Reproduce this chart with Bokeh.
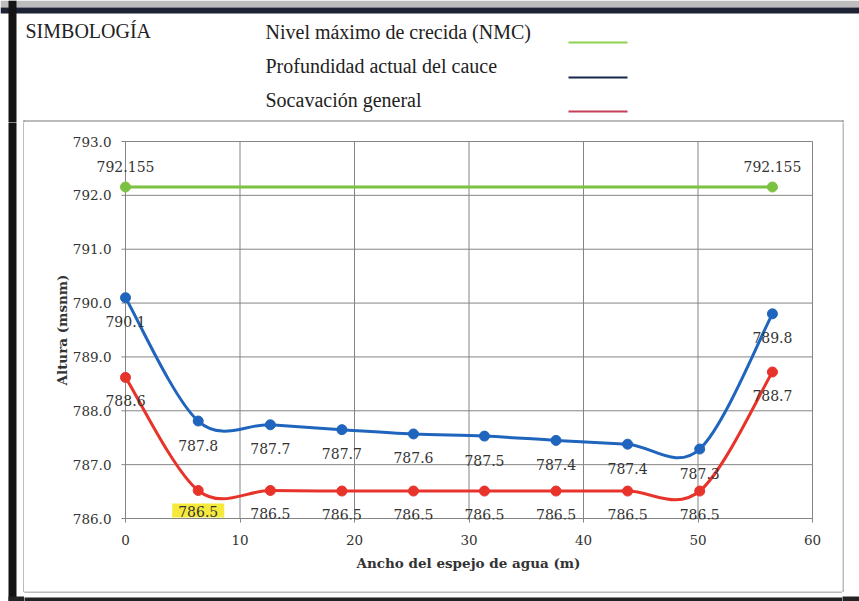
from bokeh.plotting import figure
from bokeh.layouts import column, row
from bokeh.models import (ColumnDataSource, FixedTicker, PrintfTickFormatter, Label,
                          LabelSet, Range1d)
from bokeh.core.properties import value
from bokeh.embed import file_html
from bokeh.resources import INLINE

# ---------------- data ----------------
x_pts = [0, 6.35, 12.65, 18.9, 25.15, 31.35, 37.6, 43.85, 50.15, 56.5]
y_cauce = [790.1, 787.81, 787.74, 787.65, 787.57, 787.53, 787.45, 787.38, 787.29, 789.8]
lbl_cauce = ["790.1", "787.8", "787.7", "787.7", "787.6", "787.5", "787.4", "787.4", "787.3", "789.8"]
y_soc = [788.62, 786.52, 786.52, 786.51, 786.51, 786.51, 786.51, 786.51, 786.51, 788.72]
lbl_soc = ["788.6", "786.5", "786.5", "786.5", "786.5", "786.5", "786.5", "786.5", "786.5", "788.7"]
x_nmc = [0, 56.5]
y_nmc = [792.155, 792.155]
lbl_nmc = ["792.155", "792.155"]
x_ticks = [0, 10, 20, 30, 40, 50, 60]
y_ticks = [786, 787, 788, 789, 790, 791, 792, 793]
legend_title = "SIMBOLOGÍA"
series_names = ["Nivel máximo de crecida (NMC)", "Profundidad actual del cauce", "Socavación general"]
highlight_index = 1

C_GREEN = "#7cc242"
C_BLUE = "#1f65bd"
C_RED = "#e8332a"
LEG_COLORS = ["#8fd14f", "#16284a", "#c4405a"]
GRID = "#858585"
TXT = "#333333"

# ---------------- page geometry (px) ----------------
# decorations of the scanned sheet: (left, top, right, bottom, colour)
DECO = [
    (0, 0, 859, 7, "#bdbdbd"),
    (0, 7, 859, 13, "#1e2235"),
    (8, 0, 16, 601, "#141414"),
    (8, 596, 859, 601, "#232323"),
    (23, 120, 843, 121, "#7a7a7a"),
    (23, 590, 843, 591, "#7a7a7a"),
    (23, 120, 24, 591, "#7a7a7a"),
    (842, 120, 843, 591, "#7a7a7a"),
]


def deco(x0, y0, w, h):
    f = figure(width=w, height=h, output_backend="svg", toolbar_location=None,
               x_range=Range1d(x0, x0 + w), y_range=Range1d(y0 + h, y0),
               x_axis_type=None, y_axis_type=None, min_border=0, frame_align=False)
    f.outline_line_color = None
    f.background_fill_color = "white"
    f.border_fill_color = "white"
    for (a, b, c, d, col) in DECO:
        f.quad(left=a, right=c, top=b, bottom=d, fill_color=col, line_color=None)
    return f


# ---------------- legend strip ----------------
leg = deco(0, 0, 859, 122)
leg.text(x=[25], y=[30], text=[legend_title], text_font=value("Liberation Serif"),
         text_font_size="20px", text_color="#222222", text_baseline="middle")
leg_y_text = [31, 65, 99]
leg_y_line = [42, 77, 111]
leg.text(x=[265] * 3, y=leg_y_text, text=series_names, text_font=value("Liberation Serif"),
         text_font_size="20px", text_color="#222222", text_baseline="middle")
leg.segment(x0=[568] * 3, x1=[627] * 3, y0=leg_y_line, y1=leg_y_line,
            line_color=LEG_COLORS, line_width=2)

left = deco(0, 122, 24, 479)
bottom = deco(24, 590, 818, 11)
right = deco(842, 122, 17, 479)

# ---------------- main chart ----------------
MX, MY, MW, MH = 24, 122, 818, 468          # canvas of the chart on the page
FL, FR, FT, FB = 94, 842, 140, 519           # plot frame on the page
PX0, PX60, PY793, PY786 = 125, 812, 141, 518  # where the axis ends fall
sx = (PX60 - PX0) / 60.0
sy = (PY786 - PY793) / 7.0
xr = Range1d((FL - PX0) / sx, (FR - PX0) / sx)
yr = Range1d(786 - (FB - PY786) / sy, 793 + (PY793 - FT) / sy)

p = figure(width=MW, height=MH, output_backend="svg", toolbar_location=None,
           x_range=xr, y_range=yr, frame_align=False,
           min_border_left=FL - MX, min_border_right=MW - (FL - MX) - (FR - FL),
           min_border_top=FT - MY, min_border_bottom=MH - (FT - MY) - (FB - FT))
p.background_fill_color = "white"
p.border_fill_color = "white"
p.outline_line_color = None
p.grid.visible = False

p.xaxis.ticker = FixedTicker(ticks=x_ticks)
p.yaxis.ticker = FixedTicker(ticks=y_ticks)
p.yaxis.formatter = PrintfTickFormatter(format="%.1f")
for ax in (p.xaxis[0], p.yaxis[0]):
    ax.axis_line_color = None
    ax.major_tick_line_color = GRID
    ax.minor_tick_line_color = None
    ax.major_label_text_font = "DejaVu Serif"
    ax.major_label_text_font_size = "13.5px"
    ax.major_label_text_color = TXT
    ax.axis_label_text_font = "DejaVu Serif"
    ax.axis_label_text_font_style = "bold"
    ax.axis_label_text_font_size = "13.5px"
    ax.axis_label_text_color = TXT
p.xaxis.major_tick_in = 1
p.xaxis.major_tick_out = 3
p.yaxis.major_tick_in = 0
p.yaxis.major_tick_out = 0
p.yaxis.major_tick_line_color = None
p.xaxis.major_label_standoff = 12
p.yaxis.major_label_standoff = -(PX0 - 14 - FL)
p.xaxis.axis_label = "Ancho del espejo de agua (m)"
p.yaxis.axis_label = "Altura (msnm)"
p.xaxis.axis_label_standoff = 7
p.yaxis.axis_label_standoff = 0

# grid / axis lines from the tick lists (horizontal lines stick out 4 px like ticks)
p.segment(x0=x_ticks, x1=x_ticks, y0=[y_ticks[0]] * len(x_ticks), y1=[y_ticks[-1]] * len(x_ticks),
          line_color=GRID, line_width=1)
p.segment(x0=[x_ticks[0] - 4 / sx] * len(y_ticks), x1=[x_ticks[-1]] * len(y_ticks), y0=y_ticks, y1=y_ticks,
          line_color=GRID, line_width=1)


def smooth(xs, ys):
    n = len(xs)
    d = dict(x0=[], y0=[], x1=[], y1=[], cx0=[], cy0=[], cx1=[], cy1=[])
    for i in range(n - 1):
        im, ip2 = max(i - 1, 0), min(i + 2, n - 1)
        d["x0"].append(xs[i]); d["y0"].append(ys[i])
        d["x1"].append(xs[i + 1]); d["y1"].append(ys[i + 1])
        d["cx0"].append(xs[i] + (xs[i + 1] - xs[im]) / 6.0)
        d["cy0"].append(ys[i] + (ys[i + 1] - ys[im]) / 6.0)
        d["cx1"].append(xs[i + 1] - (xs[ip2] - xs[i]) / 6.0)
        d["cy1"].append(ys[i + 1] - (ys[ip2] - ys[i]) / 6.0)
    return ColumnDataSource(d)


for ys, col in ((y_soc, C_RED), (y_cauce, C_BLUE)):
    p.bezier(x0="x0", y0="y0", x1="x1", y1="y1", cx0="cx0", cy0="cy0", cx1="cx1", cy1="cy1",
             source=smooth(x_pts, ys), line_color=col, line_width=3, line_cap="round")
p.line(x_nmc, y_nmc, line_color=C_GREEN, line_width=3)

src_c = ColumnDataSource(dict(x=x_pts, y=y_cauce, t=lbl_cauce))
src_s = ColumnDataSource(dict(x=x_pts, y=y_soc, t=lbl_soc))
src_n = ColumnDataSource(dict(x=x_nmc, y=y_nmc, t=lbl_nmc))
p.scatter("x", "y", source=src_s, size=10, color=C_RED)
p.scatter("x", "y", source=src_c, size=10, color=C_BLUE)
p.scatter("x", "y", source=src_n, size=10, color=C_GREEN)

keep = [i for i in range(len(x_pts)) if i != highlight_index]
src_s_lbl = ColumnDataSource(dict(x=[x_pts[i] for i in keep], y=[y_soc[i] for i in keep],
                                  t=[lbl_soc[i] for i in keep]))
for src, off in ((src_c, -24), (src_s_lbl, -23), (src_n, 21)):
    p.add_layout(LabelSet(x="x", y="y", text="t", source=src, y_offset=off,
                          text_align="center", text_baseline="middle",
                          text_font=value("DejaVu Serif"), text_font_size=value("14px"),
                          text_color=TXT))
p.add_layout(Label(x=x_pts[highlight_index], y=y_soc[highlight_index], text=lbl_soc[highlight_index],
                   y_offset=-20, text_align="center", text_baseline="middle",
                   text_font="DejaVu Serif", text_font_size="14px", text_color=TXT,
                   background_fill_color="#f5ea3c",
                   padding=dict(left=6, right=6, top=3, bottom=0)))

layout = column(leg, row(left, column(p, bottom), right))
open("out.html", "w").write(file_html(layout, INLINE))
